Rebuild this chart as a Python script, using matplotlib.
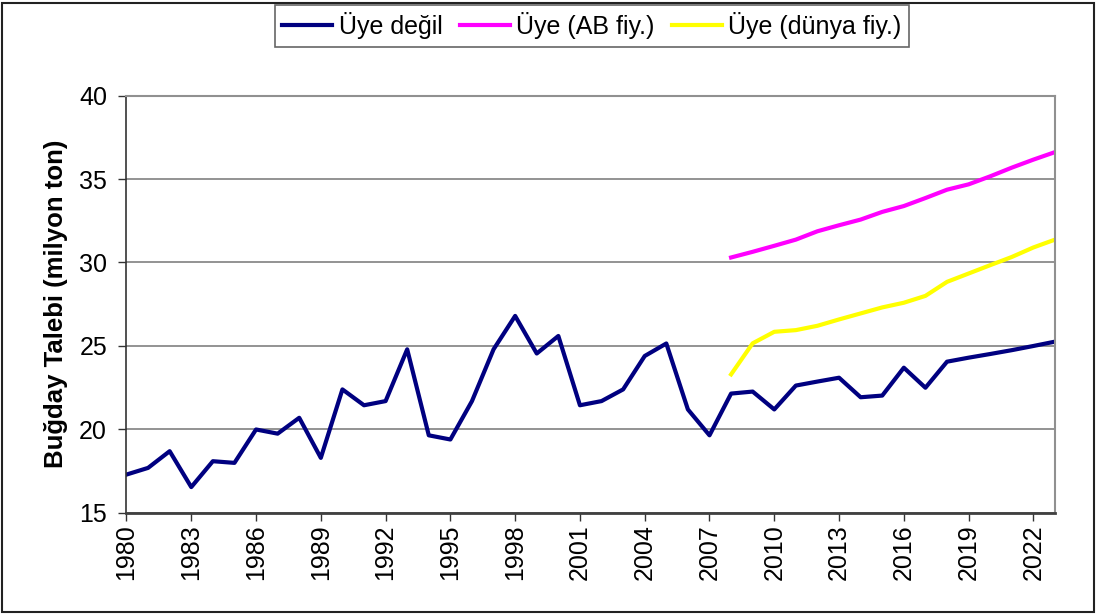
import matplotlib
matplotlib.use("Agg")
import matplotlib.pyplot as plt
from matplotlib.patches import Rectangle

plt.rcParams['font.family'] = ['Liberation Sans', 'DejaVu Sans']

# yillar
years_hist = list(range(1980, 2024))
years_proj = list(range(2008, 2024))

# Uye degil (1980-2023)
uye_degil = [17.3, 17.7, 18.7, 16.55, 18.1, 18.0, 20.0, 19.75, 20.7, 18.3,
             22.4, 21.45, 21.7, 24.8, 19.65, 19.4, 21.7, 24.8, 26.8, 24.55,
             25.6, 21.45, 21.7, 22.4, 24.4, 25.15, 21.2, 19.65, 22.15, 22.27,
             21.2, 22.63, 22.87, 23.1, 21.93, 22.03, 23.7, 22.5, 24.06, 24.3,
             24.52, 24.75, 25.0, 25.26]

# Uye (AB fiy.) 2008-2023
uye_ab = [30.3, 30.64, 31.0, 31.37, 31.87, 32.23, 32.57, 33.03, 33.38, 33.86,
          34.36, 34.68, 35.16, 35.68, 36.16, 36.61]

# Uye (dunya fiy.) 2008-2023
uye_dunya = [23.3, 25.16, 25.85, 25.95, 26.21, 26.59, 26.95, 27.31, 27.59, 28.0,
             28.84, 29.34, 29.84, 30.33, 30.9, 31.37]

fig = plt.figure(figsize=(10.97, 6.15), dpi=100)
ax = fig.add_axes([0.1153, 0.1659, 0.8464, 0.6788])

ax.plot(years_hist, uye_degil, color='#000080', lw=3, label='Üye değil')
ax.plot(years_proj, uye_ab, color='#FF00FF', lw=3, label='Üye (AB fiy.)')
ax.plot(years_proj, uye_dunya, color='#FFFF00', lw=3, label='Üye (dünya fiy.)')

ax.set_xlim(1980, 2023)
ax.set_ylim(15, 40)
ax.set_xticks(list(range(1980, 2023, 3)))
ax.set_yticks([15, 20, 25, 30, 35, 40])
ax.tick_params(axis='x', labelrotation=90, labelsize=18, direction='out', length=6, width=1, color='#333333', pad=2)
ax.tick_params(axis='y', labelsize=18, direction='out', length=6, width=1, color='#333333', pad=8)
ax.yaxis.grid(True, color='#808080', lw=1.2)
ax.set_axisbelow(True)

for side in ['top', 'right']:
    ax.spines[side].set_color('#909090')
    ax.spines[side].set_linewidth(1.5)
ax.spines['left'].set_color('#333333')
ax.spines['left'].set_linewidth(1.2)
ax.spines['bottom'].set_color('#404040')
ax.spines['bottom'].set_linewidth(2)

ax.set_ylabel('Buğday Talebi (milyon ton)', fontsize=18.5, fontweight='bold', labelpad=8)

leg = fig.legend(loc='center', bbox_to_anchor=(0.5397, 0.9585), ncol=3, fontsize=18,
                 frameon=True, fancybox=False, edgecolor='#404040', handlelength=2.0,
                 handletextpad=0.25, columnspacing=0.7, borderpad=0.3, borderaxespad=0)
leg.get_frame().set_linewidth(1.2)

fig.patches.append(Rectangle((2 / 1097, 3 / 615), 1092 / 1097, 609 / 615, transform=fig.transFigure,
                             fill=False, edgecolor='#222222', lw=1.5))

fig.savefig('out.png', dpi=100)
